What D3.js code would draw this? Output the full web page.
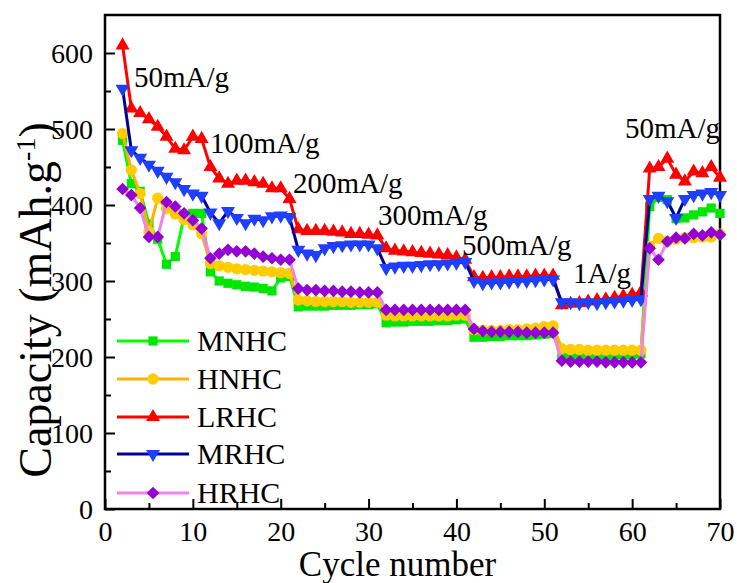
<!DOCTYPE html>
<html><head><meta charset="utf-8">
<script src="https://cdn.jsdelivr.net/npm/d3@7"></script>
<style>body{margin:0;background:#fff}svg{display:block}text{font-family:"Liberation Serif","Times New Roman",serif;fill:#000}</style>
</head><body>
<svg id="c" width="737" height="583"></svg>
<script>
const cycles = [2,3,4,5,6,7,8,9,10,11,12,13,14,15,16,17,18,19,20,21,22,23,24,25,26,27,28,29,30,31,32,33,34,35,36,37,38,39,40,41,42,43,44,45,46,47,48,49,50,51,52,53,54,55,56,57,58,59,60,61,62,63,64,65,66,67,68,69,70];
const MNHC = [485,428,418,375,355,322,332,385,389,389, 312,300,297,295,293,292,290,287,304,306, 266,267,267,267,268,268,268,269,269,270, 245,246,246,247,247,247,248,248,249,250, 226,226,227,227,228,228,228,229,230,231, 200,201,201,202,202,202,203,203,203,204, 398,410,407,382,383,387,391,396,389];
const HNHC = [494,446,415,365,409,395,388,381,374,362, 323,320,318,316,315,314,313,312,311,310, 275,274,273,273,273,273,272,272,272,272, 255,254,254,254,254,254,254,254,255,255, 236,235,235,235,236,236,237,238,240,241, 211,210,210,209,209,209,209,209,209,209, 346,356,352,355,357,357,358,358,362];
const LRHC = [610,527,521,513,503,490,474,472,490,487, 450,435,428,432,432,430,428,422,422,408, 368,366,366,366,365,364,362,362,361,360, 343,340,339,338,337,336,335,334,331,328, 305,304,305,305,306,306,306,307,307,307, 268,270,271,273,275,276,278,280,282,285, 448,450,461,440,431,444,442,450,436];
const MRHC = [553,472,462,453,445,437,430,421,415,412, 390,376,392,383,376,382,380,385,386,384, 341,336,334,343,346,347,348,348,348,343, 317,319,320,320,321,322,322,323,324,325, 300,297,298,298,299,300,300,301,302,302, 272,272,271,272,271,272,273,274,275,276, 408,412,405,383,408,413,415,417,413];
const HRHC = [421,413,396,358,358,404,398,389,380,369, 330,336,341,339,339,336,332,330,328,328, 290,288,288,287,287,286,286,285,285,285, 262,262,262,262,262,262,262,262,262,262, 237,234,233,233,233,233,232,232,232,232, 195,194,194,194,194,193,193,193,193,193, 343,328,352,357,356,362,360,364,361];
const seriesNames = ["MNHC","HNHC","LRHC","MRHC","HRHC"];
const xTicks = [0,10,20,30,40,50,60,70];
const yTicks = [0,100,200,300,400,500,600];
const rateLabels = ["50mA/g","100mA/g","200mA/g","300mA/g","500mA/g","1A/g","50mA/g"];

const styles = {
  MNHC:{line:"#00ff00", fill:"#00e600", sym:"square"},
  HNHC:{line:"#ffb000", fill:"#ffcc00", sym:"circle"},
  LRHC:{line:"#ff0000", fill:"#ff0000", sym:"up"},
  MRHC:{line:"#000099", fill:"#1f3fff", sym:"down"},
  HRHC:{line:"#ee82ee", fill:"#9400d3", sym:"diamond"}
};
const dataMap = {MNHC, HNHC, LRHC, MRHC, HRHC};

const svg = d3.select("#c");
const L=105, R=720, T=15, B=509;
const x = d3.scaleLinear().domain([0,70]).range([L,R]);
const y = d3.scaleLinear().domain([0,650]).range([B,T]);

function symPath(kind){
  if(kind==="square") return d3.symbol(d3.symbolSquare, 85)();
  if(kind==="circle") return d3.symbol(d3.symbolCircle, 100)();
  if(kind==="up") return d3.symbol(d3.symbolTriangle, 85)();
  if(kind==="down") return d3.symbol(d3.symbolTriangle, 85)();
  if(kind==="diamond") return d3.symbol(d3.symbolSquare, 80)();
}
function symRot(kind){ return kind==="down"?180:(kind==="diamond"?45:0); }

// axes
const xMinor = [5,15,25,35,45,55,65];
const yMinor = [50,150,250,350,450,550];
const gx = svg.append("g").attr("transform",`translate(0,${B})`);
gx.call(d3.axisBottom(x).tickValues(xMinor).tickSizeInner(-6).tickSizeOuter(0).tickFormat(""));
gx.call(g=>g.select(".domain").remove());
const gx2 = svg.append("g").attr("transform",`translate(0,${B})`)
  .call(d3.axisBottom(x).tickValues(xTicks).tickSizeInner(-10).tickSizeOuter(0));
gx2.select(".domain").remove();
gx2.selectAll("text").attr("y",32).attr("dy",0).style("font-size","28px").style("font-family","Liberation Serif");
const gy = svg.append("g").attr("transform",`translate(${L},0)`);
gy.call(d3.axisLeft(y).tickValues(yMinor).tickSizeInner(-6).tickSizeOuter(0).tickFormat(""));
gy.select(".domain").remove();
const gy2 = svg.append("g").attr("transform",`translate(${L},0)`)
  .call(d3.axisLeft(y).tickValues(yTicks).tickSizeInner(-10).tickSizeOuter(0));
gy2.select(".domain").remove();
gy2.selectAll("text").attr("x",-12).attr("dy","0.34em").style("font-size","28px").style("font-family","Liberation Serif");
svg.selectAll(".tick line").attr("stroke","#000").attr("stroke-width",2);

// frame
svg.append("rect").attr("x",L).attr("y",T).attr("width",R-L).attr("height",B-T)
  .attr("fill","none").attr("stroke","#000").attr("stroke-width",2.5);

// series
const line = d3.line().x((d,i)=>x(cycles[i])).y(d=>y(d));
seriesNames.forEach(name=>{
  const st = styles[name], vals = dataMap[name];
  const g = svg.append("g");
  g.append("path").datum(vals).attr("d",line).attr("fill","none")
    .attr("stroke",st.line).attr("stroke-width",3);
  g.selectAll("path.m").data(vals).join("path").attr("class","m")
    .attr("d",symPath(st.sym)).attr("fill",st.fill)
    .attr("transform",(d,i)=>`translate(${x(cycles[i])},${y(d)}) rotate(${symRot(st.sym)})`);
});

// rate annotations
const annPos = [[134,87],[210,153],[293,193],[378,225],[462,255],[573,283],[625,138]];
rateLabels.forEach((t,i)=>{
  svg.append("text").attr("x",annPos[i][0]).attr("y",annPos[i][1])
    .style("font-size","29px").text(t);
});

// legend
const legY = [341,379,417,454,493];
seriesNames.forEach((name,i)=>{
  const st = styles[name], yy = legY[i];
  svg.append("line").attr("x1",117).attr("x2",189).attr("y1",yy).attr("y2",yy)
    .attr("stroke",st.line).attr("stroke-width",3);
  svg.append("path").attr("d",symPath(st.sym)).attr("fill",st.fill)
    .attr("transform",`translate(153,${yy}) rotate(${symRot(st.sym)})`);
  svg.append("text").attr("x",197).attr("y",yy+10).style("font-size","30px").text(name);
});

// axis titles
svg.append("text").attr("x",(L+R)/2-15).attr("y",576).attr("text-anchor","middle")
  .style("font-size","35px").text("Cycle number");
const yt = svg.append("text").attr("transform","translate(51,300) rotate(-90)")
  .attr("text-anchor","middle").style("font-size","46px");
yt.append("tspan").text("Capacity (mAh.g");
yt.append("tspan").attr("dy",-16).style("font-size","28px").text("-1");
yt.append("tspan").attr("dy",16).text(")");
</script>
</body></html>
